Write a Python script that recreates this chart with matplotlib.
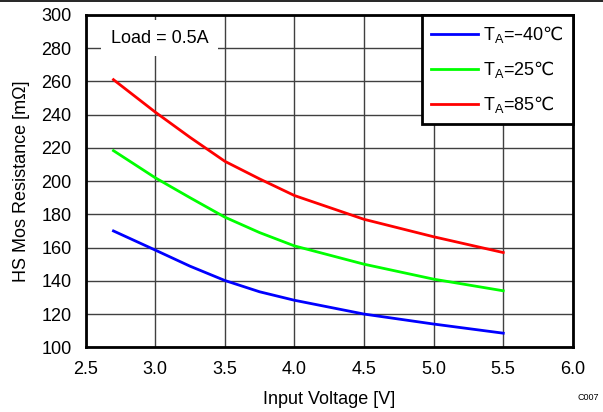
import matplotlib.pyplot as plt
from matplotlib.lines import Line2D

plt.rcParams['font.family'] = ['Liberation Sans', 'DejaVu Sans']
plt.rcParams['mathtext.fontset'] = 'dejavusans'

# input voltage [V]
vin = [2.7, 3.0, 3.25, 3.5, 3.75, 4.0, 4.5, 5.0, 5.5]
# HS mos resistance [mOhm]
r_m40 = [170, 158.5, 148.8, 140.2, 133.4, 128.3, 120, 114, 108.5]
r_25 = [218.3, 202, 190, 178.3, 169, 161, 150, 141, 134]
r_85 = [261, 241.5, 226.3, 211.9, 201.3, 191.3, 177, 166.5, 157]

labels = ['T$_\\mathregular{A}$=\u201340$\\mathrm{\u2103}$',
          'T$_\\mathregular{A}$=25$\\mathrm{\u2103}$',
          'T$_\\mathregular{A}$=85$\\mathrm{\u2103}$']
colors = ['#0000ff', '#00ff00', '#ff0000']

fig = plt.figure(figsize=(6.03, 4.12), dpi=100)
ax = fig.add_axes([0.142, 0.157, 0.808, 0.807])

for y, c, lab in zip([r_m40, r_25, r_85], colors, labels):
    ax.plot(vin, y, color=c, lw=2, label=lab, zorder=3)

ax.set_xlim(2.5, 6.0)
ax.set_ylim(100, 300)
ax.set_xticks([2.5, 3.0, 3.5, 4.0, 4.5, 5.0, 5.5, 6.0])
ax.set_xticklabels(['2.5', '3.0', '3.5', '4.0', '4.5', '5.0', '5.5', '6.0'])
ax.set_yticks(range(100, 301, 20))
ax.tick_params(length=0, labelsize=13, pad=10)
ax.grid(True, color='#404040', lw=1)
for s in ax.spines.values():
    s.set_linewidth(2)
    s.set_color('black')

ax.set_xlabel('Input Voltage [V]', fontsize=13, labelpad=9)
ax.set_ylabel('HS Mos Resistance [m\u03a9]', fontsize=13, labelpad=8)

ax.text(2.68, 286, 'Load = 0.5A', fontsize=13, va='center', ha='left', zorder=4,
        bbox=dict(facecolor='white', edgecolor='none', pad=7))

leg = ax.legend(loc='upper right', borderaxespad=0, fancybox=False,
                fontsize=13, handlelength=2.6, labelspacing=0.78,
                borderpad=0.5, handletextpad=0.3, framealpha=1)
leg.get_frame().set_edgecolor('black')
leg.get_frame().set_linewidth(2)

fig.text(0.993, 0.025, 'C007', fontsize=6.5, ha='right', va='bottom')
fig.add_artist(Line2D([0, 1], [0.998, 0.998], color='black', lw=1.2))

fig.savefig('out.png', dpi=100)
